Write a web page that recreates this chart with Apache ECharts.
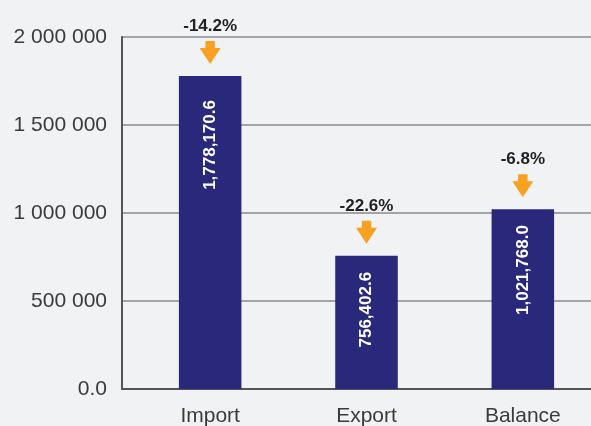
<!DOCTYPE html>
<html>
<head>
<meta charset="utf-8">
<script src="https://cdn.jsdelivr.net/npm/echarts@6/dist/echarts.min.js"></script>
<style>
  html, body { margin: 0; padding: 0; background: #f1f2f4; }
  #main { width: 591px; height: 426px; }
</style>
</head>
<body>
<div id="main"></div>
<script>
var categories = ['Import', 'Export', 'Balance'];
var values = [1778170.6, 756402.6, 1021768.0];
var changes = ['-14.2%', '-22.6%', '-6.8%'];
var yTicks = [0, 500000, 1000000, 1500000, 2000000];

(() => {
    var myChart = echarts.init(document.getElementById('main'));

    function fmtTick(v) {
        if (v === 0) return '0.0';
        return String(v).replace(/\B(?=(\d{3})+(?!\d))/g, ' ');
    }
    function fmtValue(v) {
        return v.toLocaleString('en-US', {minimumFractionDigits: 1, maximumFractionDigits: 1});
    }

    var font = '"Liberation Sans", Arial, Helvetica, sans-serif';
    var yMin = yTicks[0], yMax = yTicks[yTicks.length - 1];

    var option = {
        backgroundColor: '#f1f2f4',
        animation: false,
        // grid 0: frame, y axis + gridlines; grid 1: bars (sits a bit to the right)
        grid: [
            { left: 122, right: 0, top: 37, bottom: 37 },
            { left: 132, right: -10, top: 37, bottom: 37, outerBoundsMode: 'none', containLabel: false }
        ],
        xAxis: [
            {
                gridIndex: 0,
                type: 'value',
                min: 0, max: 1,
                axisLine: { show: true, lineStyle: { color: '#555', width: 2 } },
                axisTick: { show: false },
                axisLabel: { show: false },
                splitLine: { show: false }
            },
            {
                gridIndex: 1,
                type: 'category',
                data: categories,
                axisLine: { show: false },
                axisTick: { show: false },
                axisLabel: { color: '#3a3a3a', fontSize: 21, fontFamily: font, margin: 17 }
            }
        ],
        yAxis: [
            {
                gridIndex: 0,
                type: 'value',
                min: yMin,
                max: yMax,
                interval: yTicks[1] - yTicks[0],
                axisLine: { show: true, lineStyle: { color: '#555', width: 2 } },
                axisTick: { show: false },
                splitLine: { lineStyle: { color: '#8a8a8a', width: 1.5 } },
                axisLabel: {
                    color: '#3a3a3a', fontSize: 21, fontFamily: font, margin: 15,
                    formatter: fmtTick
                }
            },
            {
                gridIndex: 1,
                type: 'value',
                min: yMin,
                max: yMax,
                show: false
            }
        ],
        series: [
            {
                type: 'bar',
                xAxisIndex: 1,
                yAxisIndex: 1,
                data: values.map(function (v, i) {
                    return i === 0 ? { value: v, label: { distance: 24 } } : v;
                }),
                barWidth: '40%',
                itemStyle: { color: '#29287a' },
                label: {
                    show: true,
                    position: 'insideTop',
                    distance: 16,
                    rotate: 90,
                    align: 'right',
                    verticalAlign: 'middle',
                    color: '#fff',
                    fontSize: 17,
                    fontWeight: 'bold',
                    fontFamily: font,
                    formatter: function (p) { return fmtValue(p.value); }
                }
            },
            {
                type: 'custom',
                xAxisIndex: 1,
                yAxisIndex: 1,
                data: categories.map(function (c, i) { return [i, values[i], i]; }),
                renderItem: function (params, api) {
                    var pt = api.coord([api.value(0), api.value(1)]);
                    var x = pt[0];
                    var bottom = pt[1] - 12;
                    var top = bottom - 23;
                    return {
                        type: 'group',
                        children: [
                            {
                                type: 'polygon',
                                shape: {
                                    points: [
                                        [x - 4.7, top], [x + 4.7, top], [x + 4.7, top + 7],
                                        [x + 10.5, top + 7], [x, bottom], [x - 10.5, top + 7],
                                        [x - 4.7, top + 7]
                                    ]
                                },
                                style: { fill: '#f7a021' }
                            },
                            {
                                type: 'text',
                                style: {
                                    text: changes[api.value(2)],
                                    x: x,
                                    y: top - 15,
                                    align: 'center',
                                    verticalAlign: 'middle',
                                    fill: '#222',
                                    font: 'bold 17px ' + font
                                }
                            }
                        ]
                    };
                }
            }
        ]
    };
    myChart.setOption(option);
})();
</script>
</body>
</html>
